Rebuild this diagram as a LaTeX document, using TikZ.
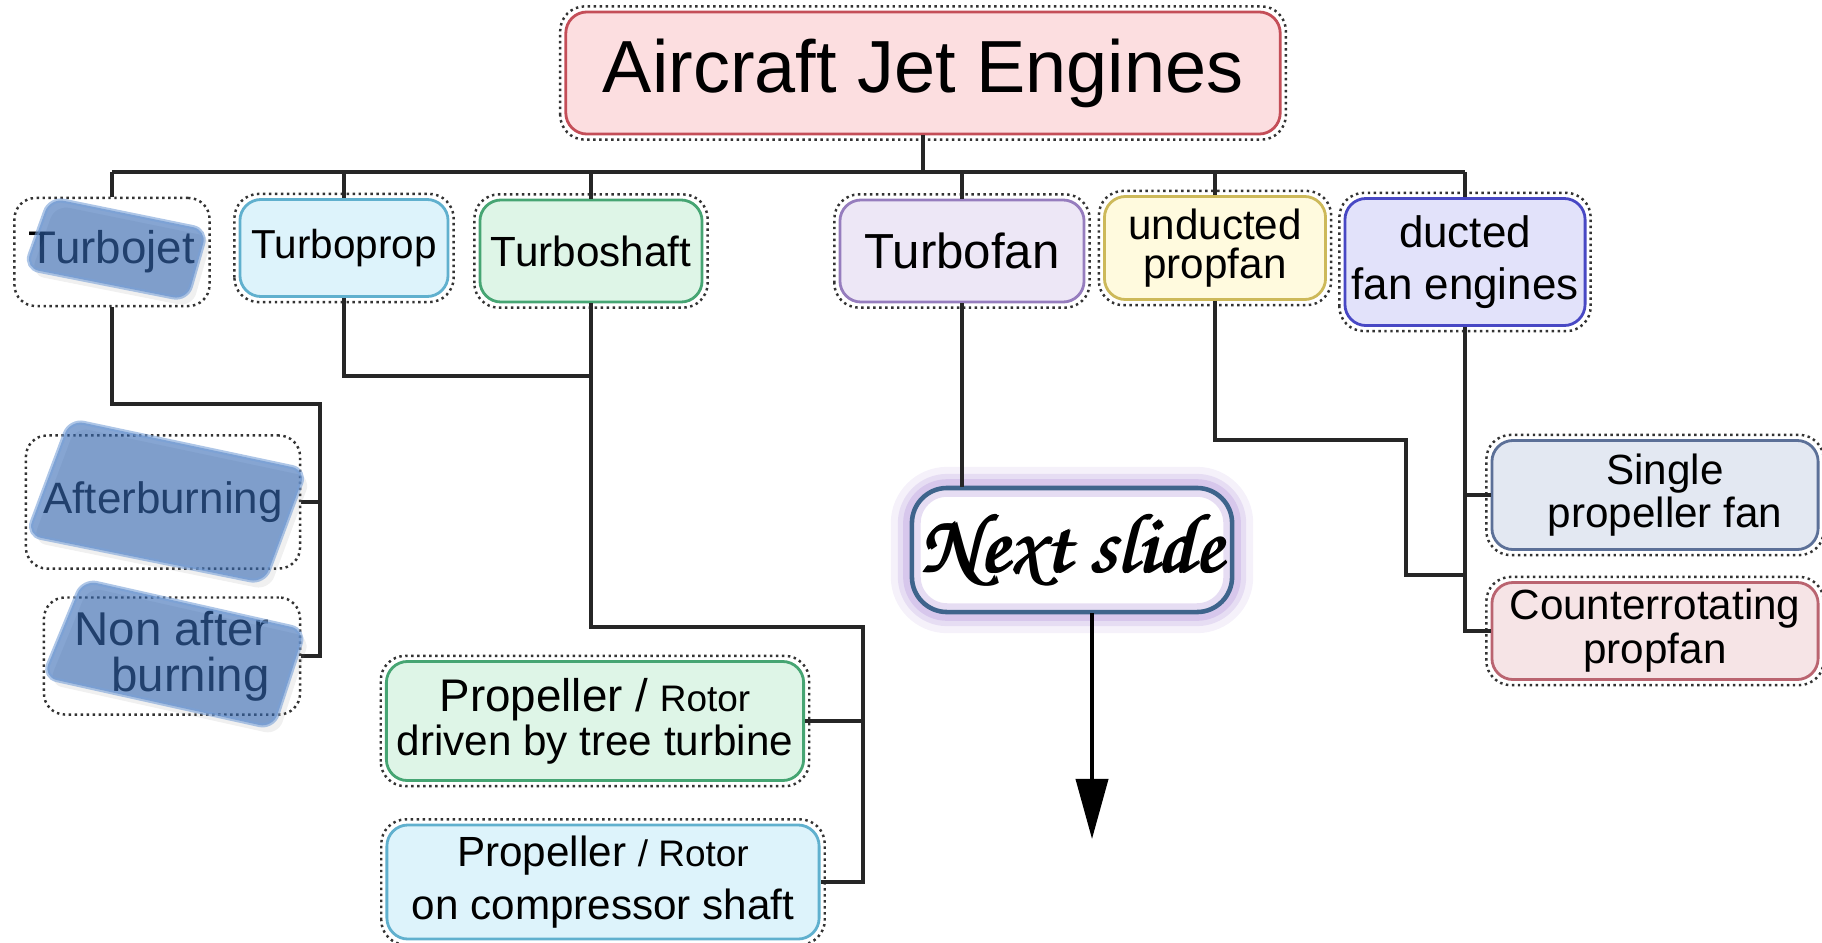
\documentclass[tikz,border=0pt]{standalone}
\usepackage{fontspec}
\setmainfont{Liberation Sans}
\usetikzlibrary{arrows.meta,shadows}
\definecolor{titlefill}{RGB}{252,222,224}
\definecolor{titleline}{RGB}{196,78,88}
\definecolor{propfill}{RGB}{221,243,251}
\definecolor{propline}{RGB}{96,176,206}
\definecolor{shaftfill}{RGB}{222,245,231}
\definecolor{shaftline}{RGB}{70,165,115}
\definecolor{fanfill}{RGB}{237,231,246}
\definecolor{fanline}{RGB}{150,125,190}
\definecolor{udfill}{RGB}{255,250,222}
\definecolor{udline}{RGB}{205,185,90}
\definecolor{dfill}{RGB}{226,226,250}
\definecolor{dline}{RGB}{72,72,196}
\definecolor{singlefill}{RGB}{227,232,242}
\definecolor{singleline}{RGB}{92,112,152}
\definecolor{counterfill}{RGB}{246,228,230}
\definecolor{counterline}{RGB}{186,100,112}
\definecolor{nextline}{RGB}{62,100,140}
\definecolor{glowviolet}{RGB}{186,160,222}
\definecolor{glossblue}{RGB}{47,100,177}
\definecolor{glossedge}{RGB}{120,160,215}
\newcommand{\fsz}[2]{\fontsize{#1}{#2}\selectfont}
\newcommand{\chancery}{\fontencoding{OT1}\fontfamily{pzc}\fontseries{mb}\fontshape{it}\selectfont}
\newcommand{\heavy}[1]{\leavevmode\rlap{#1}\raisebox{0.3pt}{\rlap{\kern0.35pt#1}}\kern0.7pt#1}

\begin{document}
\begin{tikzpicture}[
    x=0.01cm,y=-0.01cm,
    engine/.style={rectangle,rounded corners=6pt,line width=0.8pt,align=center,inner sep=1pt},
    framed/.style={rectangle,rounded corners=6pt,draw=black!80,densely dotted,line width=0.7pt,align=center,inner sep=1pt},
    dotframe/.style={draw=black!80,densely dotted,line width=0.7pt,rounded corners=7pt},
    gloss/.style={rounded corners=4pt,fill=glossblue,fill opacity=0.58,draw=glossedge,draw opacity=0.6,line width=1.2pt,
      drop shadow={shadow xshift=1.5pt,shadow yshift=-2pt,opacity=0.12}},
    glow/.style={fill=white,
      preaction={draw=glowviolet,line width=12pt,opacity=0.15},
      preaction={draw=glowviolet,line width=8pt,opacity=0.25},
      postaction={draw=glowviolet,line width=5pt,opacity=0.35},
      postaction={draw=nextline,line width=1.3pt}},
    link/.style={line width=1.3pt,draw=black!85},
    arrow/.style={-{Triangle[length=6mm,width=3.2mm]},line width=1.1pt}
  ]
    \useasboundingbox (0,0) rectangle (1822,942);

    \node[engine,draw=titleline,fill=titlefill,minimum width=7.14cm,minimum height=1.22cm,font=\fsz{21}{24}] (title) at (923,73) {Aircraft Jet Engines};

    % first row
    \node[framed,minimum width=1.95cm,minimum height=1.08cm,font=\fsz{13}{14}] (tjet) at (112,252) {Turbojet};
    \node[engine,draw=propline,fill=propfill,minimum width=2.08cm,minimum height=0.97cm,font=\fsz{11.5}{12}] (tprop) at (344,248) {Turboprop};
    \node[engine,draw=shaftline,fill=shaftfill,minimum width=2.22cm,minimum height=1.02cm,font=\fsz{12}{13}] (tshaft) at (591,251) {Turboshaft};
    \node[engine,draw=fanline,fill=fanfill,minimum width=2.44cm,minimum height=1.02cm,font=\fsz{14}{15}] (tfan) at (962,251) {Turbofan};
    \node[engine,draw=udline,fill=udfill,minimum width=2.21cm,minimum height=1.03cm,font=\fsz{12}{11}] (unducted) at (1215,248) {unducted\\propfan};
    \node[engine,draw=dline,fill=dfill,minimum width=2.40cm,minimum height=1.27cm,font=\fsz{12.5}{15}] (ducted) at (1465,262) {ducted\\fan engines};

    % second row
    \node[framed,minimum width=2.74cm,minimum height=1.33cm,font=\fsz{12.5}{14}] (afterburn) at (163,502) {Afterburning};
    \node[framed,align=right,minimum width=2.56cm,minimum height=1.17cm,font=\fsz{13.5}{13}] (nonafter) at (172,656) {Non after\\burning};
    \node[engine,draw=shaftline,fill=shaftfill,minimum width=4.17cm,minimum height=1.19cm,font=\fsz{12}{12.5}] (propdrive) at (595,721) {{\fsz{13}{13}Propeller /} {\fsz{10.5}{12}Rotor}\\driven by tree turbine};
    \node[engine,draw=propline,fill=propfill,minimum width=4.32cm,minimum height=1.14cm,font=\fsz{12}{15}] (propcomp) at (603,882) {{\fsz{12}{12}Propeller} {\fsz{10.5}{12}/ Rotor}\\on compressor shaft};
    \node[engine,glow,rounded corners=10pt,minimum width=3.20cm,minimum height=1.24cm,font=\chancery\fsz{24}{26}] (next) at (1072,550) {\heavy{Next slide}};
    \node[engine,draw=singleline,fill=singlefill,minimum width=3.26cm,minimum height=1.09cm,font=\fsz{12}{12}] (single) at (1655,495) {\hspace{0.2cm}Single\\\hspace{0.2cm}propeller fan};
    \node[engine,draw=counterline,fill=counterfill,minimum width=3.26cm,minimum height=0.97cm,font=\fsz{12}{12.5}] (counter) at (1655,631) {Counterrotating\\propfan};

    % dotted outer frames
    \foreach \n in {title,tprop,tshaft,tfan,unducted,ducted,propdrive,propcomp,single,counter}
      \draw[dotframe] ([shift={(-1.2pt,-1.2pt)}]\n.south west) rectangle ([shift={(1.2pt,1.2pt)}]\n.north east);

    % tree
    \coordinate (bus) at (923,172);
    \draw[link] (title.south) -- (bus);
    \draw[link] (bus -| tjet.north) -- (bus -| ducted.north);
    \foreach \n in {tjet,tprop,tshaft,tfan,unducted,ducted}
      \draw[link] (bus -| \n.north) -- (\n.north);

    \coordinate (jetrail) at (320,404);
    \draw[link] (tjet.south) |- (jetrail) |- (nonafter.east);
    \draw[link] (afterburn.east) -- (afterburn.east -| jetrail);

    \coordinate (shaftrail) at (863,627);
    \draw[link] (tprop.south) -- ++(0,78) -| (tshaft.south);
    \draw[link] (tshaft.south) |- (shaftrail) |- (propcomp.east);
    \draw[link] (propdrive.east) -- (propdrive.east -| shaftrail);

    \draw[link] (tfan.south) -- (tfan.south |- next.north);
    \coordinate (nexttip) at (1092,839);
    \draw[arrow] (next.south -| nexttip) -- (nexttip);

    \coordinate (udbend) at (1406,575);
    \draw[link] (unducted.south) -- ++(0,139) -| (udbend) -- (udbend -| ducted.south);
    \draw[link] (ducted.south) |- (counter.west);
    \draw[link] (single.west) -- (single.west -| ducted.south);

    % glossy tiles over the turbojet group
    \path[gloss] (50,198) -- (207,230) -- (187,300) -- (25,268) -- cycle;
    \path[gloss] (70,420) -- (306,470) -- (264,583) -- (27,535) -- cycle;
    \path[gloss] (83,580) -- (305,630) -- (273,728) -- (43,677) -- cycle;
  \end{tikzpicture}
\end{document}
